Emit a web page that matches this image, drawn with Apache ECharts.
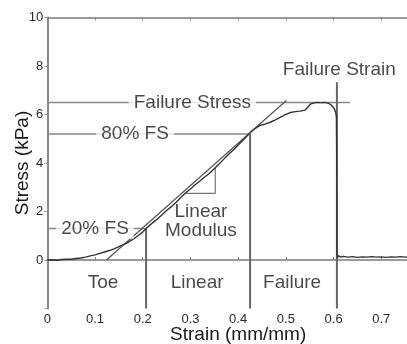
<!DOCTYPE html>
<html>
<head>
<meta charset="utf-8">
<script src="https://cdn.jsdelivr.net/npm/echarts@6/dist/echarts.min.js"></script>
<style>
  html, body { margin: 0; padding: 0; background: #fff; }
  #chart { width: 407px; height: 344px; }
</style>
</head>
<body>
<div id="chart"></div>
<script>
// Stress-strain curve of a tissue sample (tensile test)
const strain = [0, 0.01, 0.02, 0.03, 0.04, 0.05, 0.06, 0.07, 0.08, 0.09,
  0.10, 0.11, 0.12, 0.13, 0.14, 0.15, 0.16, 0.17, 0.18, 0.19,
  0.20, 0.207, 0.22, 0.23, 0.24, 0.25, 0.26, 0.27, 0.28, 0.289,
  0.30, 0.31, 0.32, 0.33, 0.34, 0.352, 0.36, 0.37, 0.38, 0.39,
  0.40, 0.41, 0.425, 0.435, 0.446, 0.456, 0.467, 0.478, 0.488, 0.498,
  0.509, 0.52, 0.53, 0.54, 0.546, 0.551, 0.558, 0.565, 0.574, 0.582,
  0.59, 0.596, 0.601, 0.604, 0.606, 0.607, 0.607, 0.608, 0.61, 0.615,
  0.62, 0.63, 0.64, 0.65, 0.66, 0.67, 0.68, 0.69, 0.70, 0.71,
  0.72, 0.73, 0.74, 0.75, 0.76];
const stress = [0, 0.01, -0.01, 0.02, 0.03, 0.03, 0.06, 0.08, 0.12, 0.17,
  0.21, 0.27, 0.33, 0.39, 0.46, 0.55, 0.63, 0.74, 0.86, 1.0,
  1.15, 1.3, 1.52, 1.68, 1.86, 2.04, 2.2, 2.38, 2.58, 2.75,
  2.93, 3.1, 3.26, 3.42, 3.58, 3.8, 3.96, 4.16, 4.36, 4.54,
  4.74, 4.94, 5.25, 5.42, 5.55, 5.6, 5.68, 5.78, 5.88, 5.98,
  6.08, 6.12, 6.14, 6.18, 6.3, 6.43, 6.47, 6.5, 6.49, 6.5,
  6.46, 6.37, 6.25, 6.12, 5.9, 3.0, 0.3, 0.08, 0.18, 0.12,
  0.15, 0.12, 0.14, 0.11, 0.13, 0.12, 0.14, 0.12, 0.13, 0.11,
  0.13, 0.12, 0.14, 0.12, 0.13];

// Key points of the curve
const failureStress = 6.5;     // kPa
const failureStrain = 0.607;   // mm/mm
const strainAt20 = 0.207;      // strain where stress = 20% FS
const strainAt80 = 0.425;      // strain where stress = 80% FS
const stressLineEnd = 0.635;   // right end of the failure stress line
const strainLineTop = 7.33;    // top of the failure strain line
const stressFloor = -2;

// Tangent used for the linear modulus and its slope triangle
const tangentStrain = [0.124, 0.501];
const tangentStress = [0, 6.58];
const triangleStrain = [0.289, 0.352, 0.352];
const triangleStress = [2.75, 2.75, 3.8];

// Axis ticks
const xTicks = [0, 0.1, 0.2, 0.3, 0.4, 0.5, 0.6, 0.7];
const yTicks = [0, 2, 4, 6, 8, 10];

// Annotation texts and their anchors (strain, stress)
const noteText = ['Failure Strain', 'Failure Stress', '80% FS', '20% FS', 'Linear\nModulus'];
const noteStrain = [0.612, 0.304, 0.184, 0.10, 0.322];
const noteStress = [7.85, 6.5, 5.2, 1.27, 1.6];
const noteBoxed = [false, true, true, true, false];

const regionText = ['Toe', 'Linear', 'Failure'];
const regionStrain = [0.117, 0.314, 0.513];
const regionStress = [-0.95, -0.95, -0.95];

const FONT = '"Liberation Sans", Arial, Helvetica, sans-serif';
const pair = (xs, ys) => xs.map((x, i) => [x, ys[i]]);

const fs20 = 0.2 * failureStress;
const fs80 = 0.8 * failureStress;

const refLine = (data, color, width) => ({
  type: 'line', data, symbol: 'none', silent: true, z: 2,
  lineStyle: { color, width }, animation: false
});

const chart = echarts.init(document.getElementById('chart'), null, { renderer: 'canvas' });

const xCommon = {
  type: 'value', min: 0, max: 0.8, interval: 0.1,
  splitLine: { show: false },
  axisLine: { lineStyle: { color: '#7a7a7a', width: 1.5 } },
  axisTick: { inside: true, length: 3, lineStyle: { color: '#888' } }
};

chart.setOption({
  animation: false,
  backgroundColor: '#fff',
  grid: {
    left: 47.3, top: 17.5, right: -22, bottom: 35.5,
    containLabel: false, outerBoundsMode: 'none'
  },
  xAxis: [
    Object.assign({}, xCommon, {
      position: 'bottom',
      name: 'Strain (mm/mm)', nameLocation: 'middle', nameGap: 17,
      nameMoveOverlap: false,
      nameTextStyle: { fontFamily: FONT, fontSize: 19, color: '#1a1a1a' },
      axisLabel: {
        fontFamily: FONT, fontSize: 13, color: '#2a2a2a', margin: 4,
        formatter: v => xTicks.some(t => Math.abs(t - v) < 1e-6) ? String(+v.toFixed(1)) : ''
      }
    }),
    Object.assign({}, xCommon, { position: 'top', axisLabel: { show: false } })
  ],
  yAxis: [{
    type: 'value', min: stressFloor, max: 10, interval: 2,
    name: 'Stress (kPa)', nameLocation: 'middle', nameGap: 15,
    nameMoveOverlap: false,
    nameTextStyle: { fontFamily: FONT, fontSize: 19, color: '#1a1a1a' },
    splitLine: { show: false },
    axisLine: { lineStyle: { color: '#888', width: 2 } },
    axisTick: { inside: false, length: 3, lineStyle: { color: '#999' } },
    axisLabel: {
      fontFamily: FONT, fontSize: 13, color: '#2a2a2a', margin: 4,
      formatter: v => yTicks.indexOf(v) >= 0 ? String(v) : ''
    }
  }],
  series: [
    // reference lines
    refLine([[0, failureStress], [stressLineEnd, failureStress]], '#888', 1.5),
    refLine([[0, fs80], [strainAt80, fs80]], '#888', 1.5),
    refLine([[0, fs20], [strainAt20, fs20]], '#888', 1.5),
    refLine([[strainAt20, stressFloor], [strainAt20, fs20]], '#666', 2),
    refLine([[strainAt80, stressFloor], [strainAt80, fs80]], '#666', 2),
    refLine([[failureStrain, stressFloor], [failureStrain, strainLineTop]], '#666', 2),
    refLine(pair(tangentStrain, tangentStress), '#555', 1.2),
    refLine(pair(triangleStrain, triangleStress), '#777', 1.2),
    // measured curve
    {
      type: 'line', data: pair(strain, stress), symbol: 'none', z: 3,
      lineStyle: { color: '#333', width: 1.4 }, animation: false
    },
    // annotations
    {
      type: 'scatter', z: 10, symbolSize: 0, silent: true,
      data: noteText.map((t, i) => ({
        value: [noteStrain[i], noteStress[i]],
        label: {
          show: true, position: 'inside', formatter: t,
          fontFamily: FONT, fontSize: 19, lineHeight: 19, color: '#1a1a1a', align: 'center',
          backgroundColor: noteBoxed[i] ? '#fff' : 'transparent',
          padding: noteBoxed[i] ? [0, 5] : 0
        }
      }))
    },
    {
      type: 'scatter', z: 10, symbolSize: 0, silent: true,
      data: regionText.map((t, i) => ({
        value: [regionStrain[i], regionStress[i]],
        label: {
          show: true, position: 'inside', formatter: t,
          fontFamily: FONT, fontSize: 19, color: '#1a1a1a'
        }
      }))
    }
  ]
});
</script>
</body>
</html>
